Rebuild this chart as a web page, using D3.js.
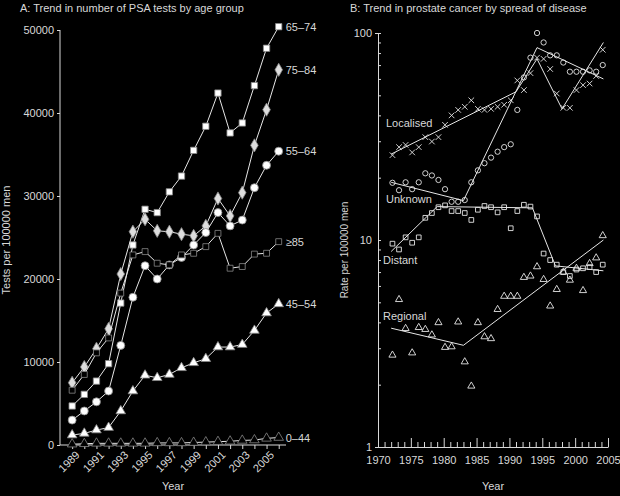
<!DOCTYPE html>
<html lang="en">
<head>
<meta charset="UTF-8">
<title>PSA tests and prostate cancer trends</title>
<script src="https://cdn.jsdelivr.net/npm/d3@7"></script>
<style>
  body { margin: 0; background: #000; }
  svg { font-family: "Liberation Sans", Arial, sans-serif; }
  text { fill: #d8d8d8; }
  .axis path, .axis line { stroke: #d8d8d8; }
  .axis text { fill: #d8d8d8; font-size: 11px; }
</style>
</head>
<body>
<div id="chartArea"></div>
<script>
'use strict';

// ---- Panel A: PSA tests per 100000 men, by age group ----
const psaYears = d3.range(1989, 2007);
const psaTickLabels = [1989, 1991, 1993, 1995, 1997, 1999, 2001, 2003, 2005];
const age65to74 = [4700, 6100, 7700, 9800, 17100, 24100, 28400, 28000, 30500, 32400, 35500, 38400, 42400, 37600, 38800, 43300, 47800, 50400];
const age75to84 = [7500, 9400, 11600, 14000, 20600, 25700, 27200, 25800, 25700, 25400, 25200, 26400, 29700, 27600, 30400, 36100, 40400, 45200];
const age55to64 = [3000, 4100, 5200, 6500, 12000, 17800, 21600, 20000, 21700, 22600, 24100, 25600, 28000, 26400, 27100, 31000, 33700, 35400];
const age85plus = [6600, 8500, 11100, 12900, 18300, 22900, 23300, 21900, 21700, 22900, 23100, 23900, 25500, 21300, 21500, 23000, 23100, 24500];
const age45to54 = [1200, 1400, 1800, 2100, 4100, 6500, 8400, 8100, 8500, 9300, 9900, 10400, 11800, 11800, 12100, 13800, 15900, 17000];
const age0to44 = [100, 150, 200, 200, 200, 200, 200, 250, 250, 250, 300, 350, 400, 450, 550, 600, 800, 900];

// ---- Panel B: rate per 100000 men by spread of disease (log scale) ----
const spreadYears = d3.range(1972, 2005);
const localised = [25.7, 28.1, 28.8, 26.5, 28.1, 31.4, 29.9, 31.4, 36, 40, 42.5, 44, 47.3, 43, 42.5, 43, 44, 45, 47.3, 59, 53, 64, 76, 75, 67, 51, 43.5, 43.5, 53, 56, 57, 62, 83];
const unknown = [18.9, 17.4, 19.0, 17.6, 19.0, 21, 20.5, 19.5, 17.6, 15.3, 15.3, 15.6, 19, 21.7, 23.5, 25, 26.7, 28.1, 29, 42.5, 61, 76, 100, 90, 78, 78, 72, 65, 65, 65, 66, 65, 70];
const distant = [9.6, 9.0, 10.3, 9.7, 10.3, 12.8, 13.5, 14.4, 14.7, 13.8, 13.8, 13.5, 12.5, 14.0, 14.6, 14.4, 13.6, 14.4, 11.4, 13.8, 14.8, 14.5, 13.0, 8.6, 8.0, 7.6, 7.0, 6.7, 7.2, 7.3, 7.4, 7.0, 7.6];
const regional = [2.78, 5.16, 3.74, 2.85, 3.78, 3.70, 3.48, 3.99, 3.03, 3.05, 4.02, 2.58, 1.97, 3.99, 3.41, 3.34, 4.62, 5.35, 5.35, 5.35, 6.60, 6.70, 7.43, 6.45, 4.80, 5.77, 7.0, 6.4, 7.3, 5.7, 7.7, 8.2, 10.5];
// joinpoint trend lines: [year, rate]
const localisedTrend = [[1972, 26], [1991, 52], [1994.2, 75], [1998, 43], [2004.3, 90]];
const unknownTrend = [[1972, 19], [1983, 15.5], [1994.2, 85], [2004.3, 60]];
const distantTrend = [[1972, 8.8], [1979, 14.5], [1993.5, 14.3], [1997, 7.5], [2004.3, 7.1]];
const regionalTrend = [[1972, 3.75], [1983, 3.1], [2004.3, 10]];

const svg = d3.select('#chartArea').append('svg').attr('width', 620).attr('height', 496);
const ink = '#e6e6e6';

// ================= Panel A =================
const xA = d3.scaleLinear().domain([1988, 2006.6]).range([60, 286]);
const yA = d3.scaleLinear().domain([0, 50000]).range([445, 30]);

svg.append('text').attr('x', 20).attr('y', 12).style('font-size', '11px')
    .text('A: Trend in number of PSA tests by age group');

svg.append('g').attr('class', 'axis').attr('transform', 'translate(60,0)')
    .call(d3.axisLeft(yA).tickValues([0, 10000, 20000, 30000, 40000, 50000]).tickSize(3).tickFormat(d3.format('d')))
    .call(g => g.select('.domain').attr('d', 'M0,30V445'));

const xAxisA = svg.append('g').attr('class', 'axis').attr('transform', 'translate(0,445)')
    .call(d3.axisBottom(xA).tickValues(psaYears).tickSize(4)
        .tickFormat(d => psaTickLabels.includes(d) ? d : ''))
    .call(g => g.select('.domain').attr('d', 'M60,0H286'));
xAxisA.selectAll('text').attr('text-anchor', 'end').attr('dx', '-2px').attr('dy', '6px')
    .attr('transform', 'rotate(-45)');

svg.append('text').attr('x', 173).attr('y', 490).attr('text-anchor', 'middle').style('font-size', '11px').text('Year');
svg.append('text').attr('transform', 'translate(10,240) rotate(-90)').attr('text-anchor', 'middle')
    .style('font-size', '11px').text('Tests per 100000 men');

const lineA = d3.line().x((d, i) => xA(psaYears[i])).y(d => yA(d));

const psaSeries = [
    { name: '65–74', values: age65to74, shape: d3.symbolSquare, fill: '#fff', size: 40 },
    { name: '75–84', values: age75to84, shape: d3.symbolDiamond, fill: '#ddd', size: 50 },
    { name: '55–64', values: age55to64, shape: d3.symbolCircle, fill: '#fff', size: 50 },
    { name: '≥85', values: age85plus, shape: d3.symbolSquare, fill: '#000', size: 35 },
    { name: '45–54', values: age45to54, shape: d3.symbolTriangle, fill: '#fff', size: 40 },
    { name: '0–44', values: age0to44, shape: d3.symbolTriangle, fill: '#000', size: 40 }
];

psaSeries.forEach(s => {
    svg.append('path').attr('d', lineA(s.values)).attr('fill', 'none').attr('stroke', ink).attr('stroke-width', 1);
    svg.selectAll(null).data(s.values).enter().append('path')
        .attr('transform', (d, i) => `translate(${xA(psaYears[i])},${yA(d)})`)
        .attr('d', d3.symbol().type(s.shape).size(s.size))
        .attr('fill', s.fill).attr('stroke', '#888').attr('stroke-width', 0.8);
    const last = s.values[s.values.length - 1];
    svg.append('text').attr('x', xA(psaYears[psaYears.length - 1]) + 7).attr('y', yA(last) + 4)
        .style('font-size', '11px').text(s.name);
});

// ================= Panel B =================
const xB = d3.scaleLinear().domain([1970, 2005]).range([378, 608]);
const yB = d3.scaleLog().domain([1, 100]).range([447, 33]);

svg.append('text').attr('x', 350).attr('y', 12).style('font-size', '11px')
    .text('B: Trend in prostate cancer by spread of disease');

const logTicks = d3.range(1, 10).concat(d3.range(10, 101, 10));
svg.append('g').attr('class', 'axis').attr('transform', 'translate(378,0)')
    .call(d3.axisLeft(yB).tickValues(logTicks).tickSize(3)
        .tickFormat(d => [1, 10, 100].includes(d) ? d : ''))
    .call(g => g.selectAll('.tick line').attr('x2', 3));

svg.append('g').attr('class', 'axis').attr('transform', 'translate(0,447)')
    .call(d3.axisBottom(xB).tickValues(d3.range(1970, 2006)).tickSize(0)
        .tickFormat(d => d % 5 === 0 ? d : ''))
    .call(g => g.selectAll('.tick line').attr('y2', d => d % 5 === 0 ? -9 : -5))
    .call(g => g.selectAll('text').attr('dy', '1.3em'));

svg.append('text').attr('x', 493).attr('y', 490).attr('text-anchor', 'middle').style('font-size', '11px').text('Year');
svg.append('text').attr('transform', 'translate(348,250) rotate(-90)').attr('text-anchor', 'middle')
    .style('font-size', '10px').text('Rate per 100000 men');

const trendLine = d3.line().x(d => xB(d[0])).y(d => yB(d[1]));
const markB = d3.symbol().size(22);
const crossShape = d3.symbolX;

const spreadSeries = [
    { name: 'Localised', values: localised, trend: localisedTrend, shape: crossShape, label: [386, 127] },
    { name: 'Unknown', values: unknown, trend: unknownTrend, shape: d3.symbolCircle, label: [386, 203] },
    { name: 'Distant', values: distant, trend: distantTrend, shape: d3.symbolSquare, label: [383, 264] },
    { name: 'Regional', values: regional, trend: regionalTrend, shape: d3.symbolTriangle, label: [383, 320] }
];

spreadSeries.forEach(s => {
    svg.append('path').attr('d', trendLine(s.trend)).attr('fill', 'none').attr('stroke', ink).attr('stroke-width', 1);
    svg.selectAll(null).data(s.values).enter().append('path')
        .attr('transform', (d, i) => `translate(${xB(spreadYears[i] + 0.2)},${yB(d)})`)
        .attr('d', markB.type(s.shape)())
        .attr('fill', 'none').attr('stroke', ink).attr('stroke-width', 0.9);
    svg.append('text').attr('x', s.label[0]).attr('y', s.label[1]).style('font-size', '11px').text(s.name);
});
</script>
</body>
</html>
